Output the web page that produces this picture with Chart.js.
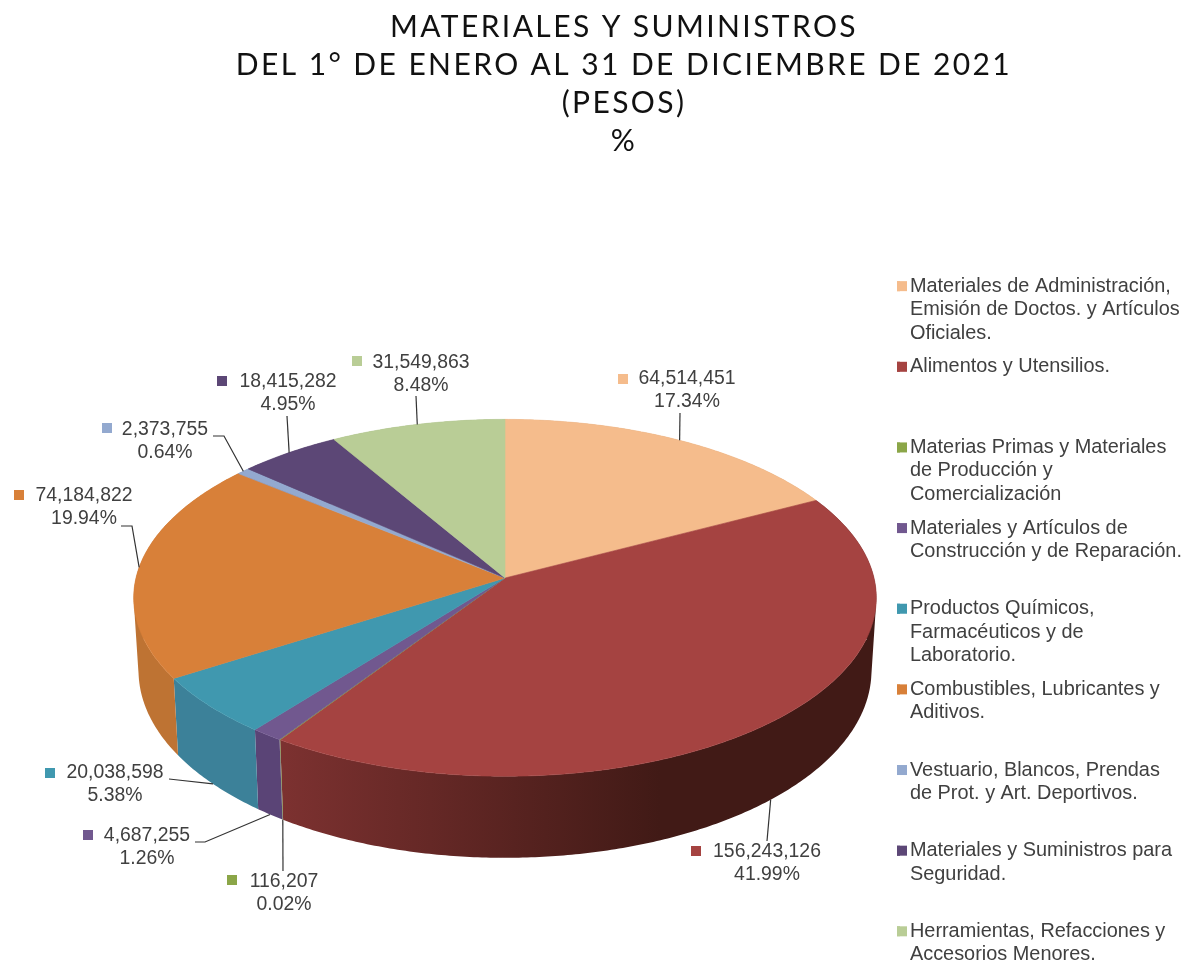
<!DOCTYPE html>
<html>
<head>
<meta charset="utf-8">
<style>html,body{margin:0;padding:0;background:#fff}canvas{display:block}</style>
<script src="https://cdn.jsdelivr.net/npm/chart.js@4"></script>
</head>
<body>
<canvas id="c" width="1188" height="961"></canvas>
<script>
const titleLines = ['MATERIALES Y SUMINISTROS', 'DEL 1° DE ENERO AL 31 DE DICIEMBRE DE 2021', '(PESOS)', '%'];
const categories = ['Materiales de Administración, Emisión de Doctos. y Artículos Oficiales.', 'Alimentos y Utensilios.', 'Materias Primas y Materiales de Producción y Comercialización', 'Materiales y Artículos de Construcción y de Reparación.', 'Productos Químicos, Farmacéuticos y de Laboratorio.', 'Combustibles, Lubricantes y Aditivos.', 'Vestuario, Blancos, Prendas de Prot. y Art. Deportivos.', 'Materiales y Suministros para Seguridad.', 'Herramientas, Refacciones y Accesorios Menores.'];
const legendLines = [
  ['Materiales de Administración,', 'Emisión de Doctos. y Artículos', 'Oficiales.'],
  ['Alimentos y Utensilios.', '', ''],
  ['Materias Primas y Materiales', 'de Producción y', 'Comercialización'],
  ['Materiales y Artículos de', 'Construcción y de Reparación.', ''],
  ['Productos Químicos,', 'Farmacéuticos y de', 'Laboratorio.'],
  ['Combustibles, Lubricantes y', 'Aditivos.', ''],
  ['Vestuario, Blancos, Prendas', 'de Prot. y Art. Deportivos.', ''],
  ['Materiales y Suministros para', 'Seguridad.', ''],
  ['Herramientas, Refacciones y', 'Accesorios Menores.']
];
const amounts = [64514451, 156243126, 116207, 4687255, 20038598, 74184822, 2373755, 18415282, 31549863];
const amountLabels = ['64,514,451', '156,243,126', '116,207', '4,687,255', '20,038,598', '74,184,822', '2,373,755', '18,415,282', '31,549,863'];
const percentLabels = ['17.34%', '41.99%', '0.02%', '1.26%', '5.38%', '19.94%', '0.64%', '4.95%', '8.48%'];
const sliceColors = ['#F5BC8C', '#A54341', '#8BA648', '#71588F', '#4098AF', '#D88039', '#93A9CF', '#5C4776', '#B9CD96'];
const wallFrom = ['#C99A72', '#7C3130', '#71883A', '#5A4476', '#3C8199', '#BE7333', '#7A8DAC', '#4C3A62', '#98A97B'];
const wallTo = ['#C99A72', '#411A16', '#71883A', '#5A4476', '#3A7B92', '#B86F31', '#7A8DAC', '#4C3A62', '#98A97B'];

// label layout: text centre x, first-line y, swatch centre x/y, elbow points of the leader
const labelLayout = [
  {x: 687, y: 379, sx: 623, sy: 379, leader: [[680, 413]]},
  {x: 767, y: 852, sx: 696, sy: 851, leader: [[767, 841]]},
  {x: 284, y: 882, sx: 232, sy: 880, leader: [[283, 871]]},
  {x: 147, y: 836, sx: 88, sy: 835, leader: [[195, 842], [205, 842]]},
  {x: 115, y: 773, sx: 50, sy: 773, leader: [[169, 779], [178, 780]]},
  {x: 84, y: 496, sx: 19, sy: 495, leader: [[121, 526], [132, 526]]},
  {x: 165, y: 430, sx: 107, sy: 428, leader: [[213, 436], [224, 436]]},
  {x: 288, y: 382, sx: 222, sy: 381, leader: [[287, 416]]},
  {x: 421, y: 363, sx: 357, sy: 361, leader: [[416, 396]]}
];

const TILT = 0.4776, PERSP = 0.111, DEPTH_SIDE = 71.6, DEPTH_FRONT = 10, BOTTOM_SCALE = 0.987;
const labelFont = '19.4px "Liberation Sans", Arial, sans-serif';
const LEGEND_FONT_SIZE = 19.9;

function topPoint(el, t) {
  const u = Math.sin(t), v = -Math.cos(t), s = 1 / (1 - PERSP * v), R = el.outerRadius;
  return [el.x + R * u * s, el.y + R * TILT * v * s];
}
function bottomPoint(el, t) {
  const p = topPoint(el, t), v = -Math.cos(t);
  return [el.x + (p[0] - el.x) * BOTTOM_SCALE, p[1] + DEPTH_SIDE + DEPTH_FRONT * v];
}
function rim(el) {
  const a = el.startAngle + Math.PI / 2, b = el.endAngle + Math.PI / 2;
  const n = Math.max(2, Math.ceil((b - a) / 0.01)), out = [];
  for (let i = 0; i <= n; i++) out.push(a + (b - a) * i / n);
  return out;
}
function signedArea(q) {
  let s = 0;
  q.forEach((p, i) => { const n = q[(i + 1) % q.length]; s += p[0] * n[1] - n[0] * p[1]; });
  return s;
}

const pie3d = {
  id: 'pie3d',
  afterLayout(chart) {
    chart.chartArea = {left: 136, right: 874, top: 209, bottom: 947, width: 738, height: 738};
    chart.titleBlock.left = 60; chart.titleBlock.right = 1188;
    chart.legend.left = 897 - chart.options.plugins.legend.labels.padding;
    chart.legend.top = 266;
  },
  afterInit(chart) {
    const t = chart.titleBlock, draw = t.draw.bind(t);
    t.draw = () => {
      chart.ctx.save();
      chart.ctx.letterSpacing = '2.4px';
      draw();
      chart.ctx.restore();
    };
  },
  beforeDatasetDraw(chart) {
    const ctx = chart.ctx, arcs = chart.getDatasetMeta(0).data;
    const c0 = arcs[0];
    ctx.save();
    // side walls: the union of one same-winding strip per rim step, filled once so no seams show
    arcs.forEach((el, i) => {
      const ts = rim(el);
      const g = ctx.createLinearGradient(c0.x - c0.outerRadius * 0.6, 0, c0.x + c0.outerRadius * 0.42, 0);
      g.addColorStop(0, wallFrom[i]); g.addColorStop(1, wallTo[i]);
      ctx.fillStyle = g;
      ctx.beginPath();
      for (let k = 0; k < ts.length - 1; k++) {
        const q = [topPoint(el, ts[k]), topPoint(el, ts[k + 1]), bottomPoint(el, ts[k + 1]), bottomPoint(el, ts[k])];
        if (signedArea(q) < 0) q.reverse();
        q.forEach((p, m) => m ? ctx.lineTo(p[0], p[1]) : ctx.moveTo(p[0], p[1]));
        ctx.closePath();
      }
      ctx.fill();
    });
    // top face
    arcs.forEach((el, i) => {
      ctx.fillStyle = sliceColors[i]; ctx.strokeStyle = sliceColors[i]; ctx.lineWidth = 0.6;
      ctx.beginPath();
      ctx.moveTo(el.x, el.y);
      rim(el).forEach(t => { const p = topPoint(el, t); ctx.lineTo(p[0], p[1]); });
      ctx.closePath(); ctx.fill(); ctx.stroke();
    });
    ctx.restore();
    return false;
  },
  afterDatasetsDraw(chart) {
    const ctx = chart.ctx, arcs = chart.getDatasetMeta(0).data;
    ctx.save();
    arcs.forEach((el, i) => {
      const lay = labelLayout[i];
      const mid = (el.startAngle + el.endAngle) / 2 + Math.PI / 2;
      const tip = Math.cos(mid) < -0.05 ? bottomPoint(el, mid) : topPoint(el, mid);
      ctx.strokeStyle = '#333'; ctx.lineWidth = 1.2;
      ctx.beginPath();
      lay.leader.forEach((p, k) => k ? ctx.lineTo(p[0], p[1]) : ctx.moveTo(p[0], p[1]));
      ctx.lineTo(tip[0], tip[1]);
      ctx.stroke();
      ctx.fillStyle = sliceColors[i];
      ctx.fillRect(lay.sx - 5, lay.sy - 5, 10, 10);
      ctx.fillStyle = '#404040'; ctx.font = labelFont;
      ctx.textAlign = 'center'; ctx.textBaseline = 'middle';
      ctx.fillText(amountLabels[i], lay.x, lay.y);
      ctx.fillText(percentLabels[i], lay.x, lay.y + 23);
    });
    ctx.restore();
  },
  afterDraw(chart) {
    const ctx = chart.ctx;
    chart.legend.legendHitBoxes.forEach((b, i) => {
      ctx.fillStyle = sliceColors[i];
      ctx.fillRect(b.left, b.top + (LEGEND_FONT_SIZE - 10) / 2, 10, 10);
    });
  }
};

new Chart(document.getElementById('c'), {
  type: 'pie',
  data: {labels: categories, datasets: [{data: amounts, backgroundColor: sliceColors, borderWidth: 0}]},
  options: {
    responsive: false,
    animation: false,
    plugins: {
      title: {
        display: true, text: titleLines, color: '#111',
        font: {family: 'Lato', size: 30, weight: 'normal', lineHeight: 1.267},
        padding: {top: 8, bottom: 8}
      },
      legend: {
        display: true, position: 'right', align: 'start',
        labels: {
          color: '#404040', boxWidth: 3, boxHeight: 10, padding: 10.2,
          font: {family: '"Liberation Sans"', size: LEGEND_FONT_SIZE, lineHeight: 1.18},
          generateLabels: () => legendLines.map((text, i) => ({text, fillStyle: sliceColors[i], strokeStyle: sliceColors[i], lineWidth: 0, hidden: false, index: i, fontColor: '#404040'}))
        }
      },
      tooltip: {enabled: false}
    }
  },
  plugins: [pie3d]
});
</script>
</body>
</html>
